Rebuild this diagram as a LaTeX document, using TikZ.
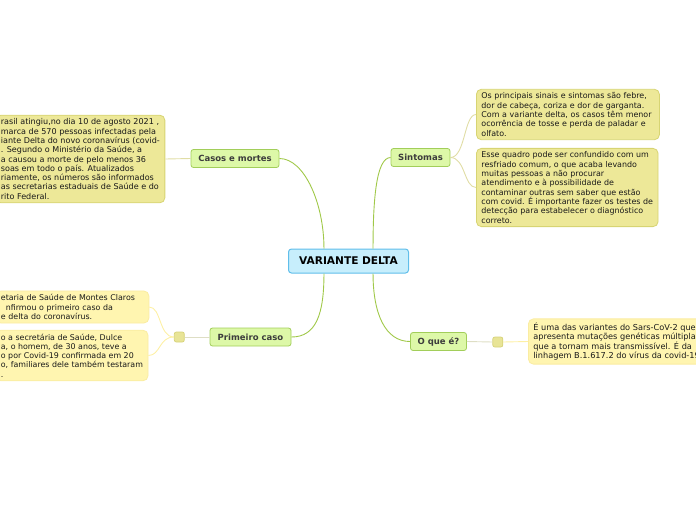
\documentclass[tikz,border=0pt]{standalone}
\usepackage{fontspec}
\setmainfont{DejaVu Sans}

\definecolor{centralfill}{RGB}{199,238,252}
\definecolor{centralborder}{RGB}{96,190,234}
\definecolor{topicfill}{RGB}{221,248,168}
\definecolor{topicborder}{RGB}{162,206,90}
\definecolor{topictext}{RGB}{60,60,60}
\definecolor{branchcol}{RGB}{160,200,72}
\definecolor{khakifill}{RGB}{237,232,152}
\definecolor{khakiborder}{RGB}{215,212,115}
\definecolor{khakitwig}{RGB}{224,221,165}
\definecolor{lemonfill}{RGB}{255,245,176}
\definecolor{lemonborder}{RGB}{250,236,162}
\definecolor{lemontwig}{RGB}{253,240,165}
\definecolor{foldfill}{RGB}{232,228,150}
\definecolor{foldborder}{RGB}{214,210,120}
\definecolor{foldtwig}{RGB}{222,222,196}
\definecolor{notetext}{RGB}{25,25,25}

\tikzset{
	central/.style={draw=centralborder, fill=centralfill, rounded corners=3pt,
		line width=1pt, minimum width=120pt, minimum height=24pt, inner sep=0pt,
		font=\fontsize{10.6}{12}\selectfont\bfseries, text=black},
	topic/.style={draw=topicborder, fill=topicfill, rounded corners=2.5pt,
		line width=0.8pt, minimum height=18pt, inner sep=0pt,
		font=\fontsize{8.5}{9}\selectfont\bfseries, text=topictext},
	note/.style={rounded corners=5pt, line width=0.8pt, inner xsep=5pt,
		inner ysep=3.5pt, align=left,
		font=\fontsize{#1}{9.3}\selectfont, text=notetext},
	note/.default=8.2,
	khakinote/.style={note=#1, draw=khakiborder, fill=khakifill},
	khakinote/.default=8.2,
	lemonnote/.style={note=#1, draw=lemonborder, fill=lemonfill},
	lemonnote/.default=8.2,
	fold/.style={draw=foldborder, fill=foldfill, rounded corners=2pt,
		line width=0.7pt, minimum size=10pt, inner sep=0pt},
	branch/.style={draw=branchcol, line width=0.9pt},
	twig/.style={line width=0.9pt}
}
\newcommand{\link}[4]{\draw[#1] (#2) .. controls #3 .. (#4)}

\begin{document}
\begin{tikzpicture}[x=1pt, y=-1pt]
	\useasboundingbox (0,0) rectangle (696,520);
	\clip (0,0) rectangle (696,520);
%The central topic
	\node[central] (root) at (348.5,261) {VARIANTE DELTA};
%Main topics
	\node[topic, minimum width=88pt] (casos) at (235,158.5) {Casos e mortes};
	\node[topic, minimum width=59pt] (sintomas) at (420.5,157.5) {Sintomas};
	\node[topic, minimum width=81pt] (primeiro) at (250.5,337) {Primeiro caso};
	\node[topic, minimum width=56pt] (oque) at (438.5,341.5) {O que é?};
%Branches from the centre
	\link{branch}{root.153}{+(0,-45) and +(25,0)}{casos.east};
	\link{branch}{root.27}{+(0,-45) and +(-15,0)}{sintomas.west};
	\link{branch}{root.207}{+(0,40) and +(25,0)}{primeiro.east};
	\link{branch}{root.333}{+(0,40) and +(-25,0)}{oque.west};
%Casos e mortes
	\node[khakinote=8.05, anchor=west] (casosnote) at (-4.5,159) {rasil atingiu,no dia 10 de agosto 2021 ,\\
		marca de 570 pessoas infectadas pela\\
		iante Delta do novo coronavírus (covid-\\
		. Segundo o Ministério da Saúde, a\\
		a causou a morte de pelo menos 36\\
		soas em todo o país. Atualizados\\
		riamente, os números são informados\\
		as secretarias estaduais de Saúde e do\\
		rito Federal.};
	\draw[twig, khakitwig] (casos.west) -- (casosnote.east);
%Sintomas
	\node[khakinote=7.95, text width=173pt, anchor=west] (sinais) at (476,114.5) {Os principais sinais e sintomas são febre,\\
		dor de cabeça, coriza e dor de garganta.\\
		Com a variante delta, os casos têm menor\\
		ocorrência de tosse e perda de paladar e\\
		olfato.};
	\node[khakinote=7.95, anchor=west] (quadro) at (476,187.5) {Esse quadro pode ser confundido com um\\
		resfriado comum, o que acaba levando\\
		muitas pessoas a não procurar\\
		atendimento e à possibilidade de\\
		contaminar outras sem saber que estão\\
		com covid. É importante fazer os testes de\\
		detecção para estabelecer o diagnóstico\\
		correto.};
	\link{twig, khakitwig}{sintomas.east}{+(15,0) and +(-12,0)}{sinais.west};
	\link{twig, khakitwig}{sintomas.east}{+(15,0) and +(-12,0)}{quadro.west};
%Primeiro caso
	\node[fold] (primfold) at (179.3,337) {};
	\node[lemonnote=7.9, text width=143pt, anchor=west] (montes) at (-4.5,307) {etaria de Saúde de Montes Claros\\
		\hspace*{5pt}nfirmou o primeiro caso da\\
		e delta do coronavírus.};
	\node[lemonnote=7.9, anchor=west] (dulce) at (-4.5,355.5) {o a secretária de Saúde, Dulce\\
		a, o homem, de 30 anos, teve a\\
		o por Covid-19 confirmada em 20\\
		o, familiares dele também testaram\\
		.};
	\draw[twig, foldtwig] (primeiro.west) -- (primfold.east);
	\link{twig, lemontwig}{primfold.west}{+(-15,0) and +(12,0)}{montes.east};
	\link{twig, lemontwig}{primfold.west}{+(-15,0) and +(12,0)}{dulce.east};
%O que e
	\node[fold] (oquefold) at (497.8,342) {};
	\node[lemonnote, anchor=west] (linhagem) at (528,341.5) {É uma das variantes do Sars-CoV-2 que\\
		apresenta mutações genéticas múltiplas\\
		que a tornam mais transmissível. É da\\
		linhagem B.1.617.2 do vírus da covid-19};
	\draw[twig, foldtwig] (oque.east) -- (oquefold.west);
	\draw[twig, lemontwig] (oquefold.east) -- (linhagem.west);
\end{tikzpicture}
\end{document}
